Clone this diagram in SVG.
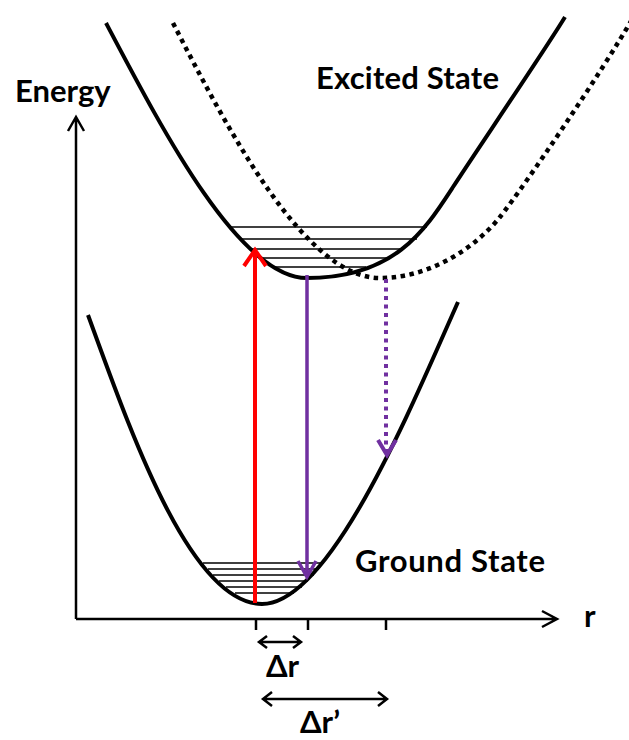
<svg xmlns="http://www.w3.org/2000/svg" width="629" height="740" viewBox="0 0 629 740">
<style>
.lbl{font-family:Lato,"Liberation Sans",Arial,sans-serif;font-weight:bold;font-size:31px;fill:#000}
.curve{fill:none;stroke:#000;stroke-width:4;stroke-linecap:butt}
.dotc{fill:none;stroke:#000;stroke-width:4.5;stroke-dasharray:4.5 4.5}
.lvl{stroke:#000;stroke-width:1.3}
.ax{fill:none;stroke:#000;stroke-width:2.5}
.red{fill:none;stroke:#FF0000;stroke-width:4}
.pur{fill:none;stroke:#7030A0;stroke-width:3.5}
.purd{fill:none;stroke:#7030A0;stroke-width:4;stroke-dasharray:4 4.5}
</style>
<rect width="629" height="740" fill="#fff"/>
<g id="axes">
<path class="ax" d="M76,619 V118 M68,131 L76,117 L84,131"/>
<path class="ax" d="M76,619 H556 M542,611 L557,619 L542,627"/>
<path class="ax" d="M256,619 V630 M308,619 V630 M386,619 V630"/>
<text class="lbl" x="15" y="102">Energy</text>
<text class="lbl" x="584" y="627">r</text>
</g>
<g id="excited-state">
<path class="curve" d="M106,23 C165,135 240,278 307,278 C395,278 425,230 453,187 C475,153 545,50 565,17"/>
<g id="excited-levels">
<line class="lvl" x1="230" y1="227" x2="427" y2="227"/>
<line class="lvl" x1="239" y1="239" x2="417" y2="239"/>
<line class="lvl" x1="250" y1="249" x2="404" y2="249"/>
<line class="lvl" x1="262" y1="258" x2="389" y2="258"/>
<line class="lvl" x1="273" y1="267" x2="366" y2="267"/>
</g>
<text class="lbl" x="316" y="89" textLength="183">Excited State</text>
</g>
<g id="excited-state-displaced">
<path class="dotc" d="M173,23 C228,130 305,278 380,278 C430,278 475,248 500,217 C525,185 600,75 634,16"/>
</g>
<g id="ground-state">
<path class="curve" d="M88,315 C130,430 190,604 262,604 C330,604 410,410 458,302"/>
<g id="ground-levels">
<line class="lvl" x1="203" y1="563" x2="324" y2="563"/>
<line class="lvl" x1="208" y1="569" x2="319" y2="569"/>
<line class="lvl" x1="213" y1="575" x2="314" y2="575"/>
<line class="lvl" x1="219" y1="581" x2="308" y2="581"/>
<line class="lvl" x1="226" y1="587" x2="302" y2="587"/>
<line class="lvl" x1="235" y1="593" x2="294" y2="593"/>
</g>
<text class="lbl" x="355" y="572" textLength="190">Ground State</text>
</g>
<g id="connectors">
<path class="red" d="M255,603 V250 M244,266 L255,250 L266,266"/>
<path class="pur" d="M307,275 V576 M298,561 L307,577 L316,561"/>
<path class="purd" d="M386,279 V452"/>
<path class="pur" d="M378,440 L387,455 L396,440" style="stroke-width:4"/>
<path class="ax" d="M259,642 H301 M267,636 L259,642 L267,648 M293,636 L301,642 L293,648"/>
<path class="ax" d="M263,699 H387 M272,692 L263,699 L272,706 M378,692 L387,699 L378,706"/>
<text class="lbl" x="266" y="677">Δr</text>
<text class="lbl" x="300" y="733">Δr’</text>
</g>
</svg>
